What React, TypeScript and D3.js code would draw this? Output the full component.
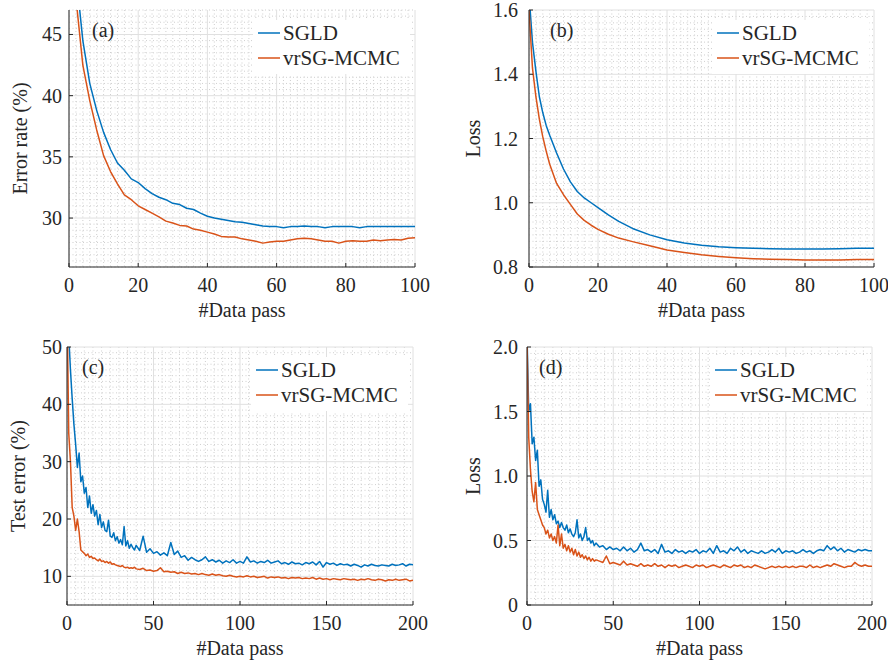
import React from 'react'
import * as d3 from 'd3'

const BLUE = '#0072BD'
const RED = '#D95319'
const FONT = '"Liberation Serif", "Times New Roman", serif'

// ---- panel (a): training error rate
const passA = d3.range(0, 101, 2)
const sgldA = [
  60, 50, 44.5, 41, 38.8, 37, 35.6, 34.5, 33.9, 33.2,
  32.9, 32.4, 32.0, 31.7, 31.5, 31.2, 31.1, 30.8, 30.7, 30.4,
  30.15, 30.0, 29.9, 29.8, 29.7, 29.65, 29.55, 29.45, 29.35, 29.3,
  29.3, 29.2, 29.3, 29.3, 29.35, 29.3, 29.3, 29.2, 29.3, 29.3,
  29.3, 29.3, 29.2, 29.3, 29.3, 29.3, 29.3, 29.3, 29.3, 29.3,
  29.3,
]
const vrA = [
  55, 48, 42.5, 39.6, 37.2, 35.1, 33.8, 32.8, 31.9, 31.5,
  31.0, 30.7, 30.4, 30.1, 29.75, 29.6, 29.4, 29.35, 29.1, 29.0,
  28.85, 28.7, 28.5, 28.45, 28.45, 28.3, 28.2, 28.1, 27.95, 28.05,
  28.1, 28.1, 28.2, 28.3, 28.35, 28.3, 28.2, 28.1, 28.1, 27.95,
  28.1, 28.15, 28.1, 28.1, 28.2, 28.15, 28.2, 28.25, 28.2, 28.35,
  28.4,
]

// ---- panel (b): training loss
const passB = [0, 1, 2, 3, 4, 5, 6, 8, 10, 12, 14, 16, 18, 20, 23, 26, 30, 35, 40, 45, 50, 55, 60, 65, 70, 75, 80, 85, 90, 95, 100]
const sgldB = [
  1.65, 1.5, 1.41, 1.33, 1.28, 1.24, 1.21, 1.155, 1.105, 1.065,
  1.035, 1.015, 1.0, 0.985, 0.962, 0.942, 0.92, 0.9, 0.885, 0.875,
  0.868, 0.863, 0.86, 0.858, 0.857, 0.856, 0.856, 0.856, 0.857, 0.858,
  0.858,
]
const vrB = [
  1.6, 1.42, 1.33, 1.26, 1.205, 1.16, 1.12, 1.06, 1.025, 0.995,
  0.965, 0.945, 0.93, 0.917, 0.902, 0.89, 0.879, 0.866, 0.853, 0.845,
  0.838, 0.833, 0.829, 0.826, 0.824, 0.823, 0.822, 0.822, 0.822, 0.823,
  0.823,
]

// ---- panels (c), (d): 0..39 every pass, then every 2nd pass up to 200
const passCD = d3.range(0, 40).concat(d3.range(40, 201, 2))
const sgldC = [
  60, 52, 46, 41, 36.5, 33, 29, 31.5, 26.5, 27.5,
  24.5, 25.5, 22, 24, 21, 22.5, 20.5, 21.5, 19, 20.8,
  18.5, 19.5, 18, 17.8, 19.8, 17, 16.8, 17.6, 16.2, 16.9,
  15.8, 16.4, 15.5, 18.7, 15.3, 16.2, 14.9, 15.6, 15.0, 14.6,
  15.4,
  14.5, 17.0, 14.2, 14.8, 14.0, 14.3, 13.7, 14.1, 13.6, 15.9,
  13.8, 14.4, 13.3, 13.6, 12.8, 13.3, 12.9, 12.6, 12.9, 13.4,
  12.6, 12.9, 12.5, 12.8, 12.3, 12.7, 12.4, 12.9, 12.3, 12.6,
  12.3, 13.4, 12.5, 12.7, 12.3, 12.6, 12.4, 12.8, 12.3, 12.5,
  12.7, 12.2, 12.4, 12.1, 12.5, 12.2, 12.3, 12.0, 12.4, 12.2,
  12.5, 12.0, 12.6, 11.6, 12.4, 12.1, 12.3, 11.9, 12.2, 12.0,
  12.1, 11.8, 12.1, 11.9, 11.6, 12.0, 11.8, 12.1, 11.9, 11.8,
  12.0, 11.9, 11.8, 12.1, 11.9, 12.0, 12.2, 11.8, 12.1, 12.0,
]
const vrC = [
  58, 35, 30, 22, 20.5, 18, 20, 17.8, 14.6, 14.3,
  14.0, 13.6, 13.9, 13.3, 13.5, 13.1, 13.2, 12.9, 12.7, 13.0,
  12.6, 12.7, 12.4, 12.6, 12.3, 12.5, 12.1, 12.2, 12.0, 11.9,
  11.8, 11.7, 11.9, 11.6, 11.5, 11.6, 11.4, 11.5, 11.4, 11.6,
  11.3,
  11.2, 11.4, 11.0, 11.1, 10.9, 11.0, 11.5, 10.8, 10.9, 10.7,
  10.8, 10.5, 10.7, 10.5, 10.6, 10.4, 10.5, 10.3, 10.5, 10.3,
  10.2, 10.4, 10.2, 10.3, 10.1, 10.0, 10.2, 10.0, 9.9, 10.0,
  9.9, 10.1, 9.9, 10.0, 9.8, 9.9, 10.0, 9.7, 9.9, 9.8,
  9.9, 9.7, 9.8, 9.6, 9.8, 9.7, 9.8, 9.6, 9.7, 9.6,
  9.8, 9.5, 9.7, 9.5, 9.6, 9.4, 9.6, 9.5, 9.4, 9.6,
  9.5, 9.4, 9.5, 9.3, 9.5, 9.4, 9.6, 9.4, 9.3, 9.5,
  9.4, 9.2, 9.4, 9.3, 9.5, 9.3, 9.4, 9.5, 9.2, 9.3,
]
const sgldD = [
  2.1, 1.5, 1.56, 1.25, 1.3, 1.12, 1.2, 0.92, 0.97, 0.82,
  0.78, 0.72, 0.89, 0.68, 0.74, 0.66, 0.7, 0.63, 0.65, 0.6,
  0.64, 0.6, 0.58, 0.62, 0.56, 0.59, 0.55, 0.53, 0.56, 0.66,
  0.52, 0.55, 0.5, 0.53, 0.6, 0.5, 0.52, 0.48, 0.5, 0.46,
  0.48,
  0.45, 0.46, 0.43, 0.45, 0.43, 0.44, 0.42, 0.45, 0.42, 0.44,
  0.41, 0.43, 0.48, 0.42, 0.43, 0.41, 0.43, 0.4, 0.47, 0.41,
  0.42, 0.4, 0.43, 0.41, 0.42, 0.4, 0.42, 0.41, 0.43, 0.4,
  0.42, 0.41, 0.44, 0.4, 0.46, 0.41, 0.42, 0.4, 0.44, 0.42,
  0.45, 0.41, 0.43, 0.4, 0.42, 0.41, 0.4, 0.42, 0.4, 0.41,
  0.43, 0.41, 0.44, 0.4, 0.42, 0.41, 0.42, 0.4, 0.41, 0.43,
  0.41, 0.42, 0.4, 0.42, 0.43, 0.42, 0.46, 0.43, 0.45, 0.42,
  0.44, 0.41, 0.43, 0.42, 0.41, 0.43, 0.42, 0.43, 0.42, 0.42,
]
const vrD = [
  2.05, 1.3, 1.05, 0.88, 0.8, 0.95, 0.74, 0.7, 0.66, 0.62,
  0.6, 0.55, 0.58, 0.52, 0.55, 0.5, 0.53, 0.48, 0.62, 0.46,
  0.55, 0.44, 0.47, 0.42, 0.46, 0.41, 0.44, 0.39, 0.43, 0.38,
  0.41, 0.37, 0.39, 0.36, 0.38, 0.35, 0.37, 0.34, 0.36, 0.34,
  0.35,
  0.34, 0.33, 0.38, 0.32, 0.33, 0.32, 0.31, 0.34, 0.31, 0.32,
  0.31, 0.3, 0.32, 0.3, 0.31, 0.3, 0.32, 0.3, 0.31, 0.29,
  0.31, 0.3, 0.31, 0.29, 0.3, 0.31, 0.3, 0.29, 0.31, 0.3,
  0.31, 0.29, 0.3, 0.31, 0.3, 0.29, 0.31, 0.3, 0.29, 0.31,
  0.3, 0.31, 0.29, 0.3, 0.29, 0.31, 0.3, 0.29, 0.28, 0.29,
  0.3, 0.29, 0.3, 0.29, 0.3, 0.29, 0.3, 0.29, 0.3, 0.3,
  0.29, 0.31, 0.29, 0.3, 0.29, 0.3, 0.31, 0.3, 0.32, 0.31,
  0.3, 0.29, 0.3, 0.3, 0.33, 0.31, 0.3, 0.31, 0.3, 0.3,
]

const seriesNames = ['SGLD', 'vrSG-MCMC']
const xTicks100 = [0, 20, 40, 60, 80, 100]
const xTicks200 = [0, 50, 100, 150, 200]

type PanelProps = {
  id: string
  tag: string
  left: number; top: number; right: number; bottom: number
  xDomain: [number, number]; yDomain: [number, number]
  xTicks: number[]; yTicks: number[]
  xMinor: number; yMinor: number
  yFmt: (v: number) => string
  yLabel: string
  labelGap: number
  tagDx: number
  yTitleX: number
  x: number[]
  blue: number[]; red: number[]
}

function minorTicks(domain: [number, number], step: number, majors: number[]) {
  const out: number[] = []
  const n = Math.round((domain[1] - domain[0]) / step)
  for (let i = 0; i <= n; i++) {
    const v = domain[0] + i * step
    if (!majors.some(m => Math.abs(m - v) < step / 10)) out.push(v)
  }
  return out
}

function Panel(p: PanelProps) {
  const xs = d3.scaleLinear().domain(p.xDomain).range([p.left, p.right])
  const ys = d3.scaleLinear().domain(p.yDomain).range([p.bottom, p.top])
  const line = d3.line<number>().x((d, i) => xs(p.x[i])).y(d => ys(d))
  const clip = 'clip-' + p.id
  const midY = (p.top + p.bottom) / 2
  const midX = (p.left + p.right) / 2
  const xMinors = minorTicks(p.xDomain, p.xMinor, p.xTicks)
  const yMinors = minorTicks(p.yDomain, p.yMinor, p.yTicks)
  const legX = p.right - 132
  return (
    <g>
      <defs>
        <clipPath id={clip}>
          <rect x={p.left} y={p.top} width={p.right - p.left} height={p.bottom - p.top} />
        </clipPath>
      </defs>
      {/* minor grid, dotted */}
      {xMinors.map(v => (
        <line key={'xm' + v} x1={xs(v)} x2={xs(v)} y1={p.top} y2={p.bottom}
          stroke="#cfcfcf" strokeWidth={1} strokeDasharray="1,2.5" />
      ))}
      {yMinors.map(v => (
        <line key={'ym' + v} y1={ys(v)} y2={ys(v)} x1={p.left} x2={p.right}
          stroke="#cfcfcf" strokeWidth={1} strokeDasharray="1,2.5" />
      ))}
      {/* major grid */}
      {p.xTicks.map(v => (
        <line key={'xg' + v} x1={xs(v)} x2={xs(v)} y1={p.top} y2={p.bottom} stroke="#e0e0e0" />
      ))}
      {p.yTicks.map(v => (
        <line key={'yg' + v} y1={ys(v)} y2={ys(v)} x1={p.left} x2={p.right} stroke="#e0e0e0" />
      ))}

      <g clipPath={`url(#${clip})`}>
        <path d={line(p.blue) || ''} fill="none" stroke={BLUE} strokeWidth={1.5} strokeLinejoin="round" />
        <path d={line(p.red) || ''} fill="none" stroke={RED} strokeWidth={1.5} strokeLinejoin="round" />
      </g>

      {/* axes */}
      <line x1={p.left} x2={p.left} y1={p.top} y2={p.bottom} stroke="#262626" />
      <line x1={p.left} x2={p.right} y1={p.bottom} y2={p.bottom} stroke="#262626" />
      {p.xTicks.map(v => (
        <g key={'xt' + v}>
          <line x1={xs(v)} x2={xs(v)} y1={p.bottom} y2={p.bottom - 4} stroke="#262626" />
          <text x={xs(v)} y={p.bottom + 25} textAnchor="middle" fontSize={20}>{v}</text>
        </g>
      ))}
      {p.yTicks.map(v => (
        <g key={'yt' + v}>
          <line x1={p.left} x2={p.left + 4} y1={ys(v)} y2={ys(v)} stroke="#262626" />
          <text x={p.left - p.labelGap} y={ys(v) + 7} textAnchor="end" fontSize={20}>{p.yFmt(v)}</text>
        </g>
      ))}
      <text x={midX} y={p.bottom + 50} textAnchor="middle" fontSize={20}>#Data pass</text>
      <text transform={`translate(${p.yTitleX},${midY}) rotate(-90)`} textAnchor="middle"
        dominantBaseline="central" fontSize={20}>{p.yLabel}</text>

      <text x={p.left + p.tagDx} y={p.top + 27} fontSize={20}>{p.tag}</text>

      {/* legend */}
      <rect x={p.right - 162} y={p.top + 10} width={157} height={54} fill="#fff" />
      {[p.blue, p.red].map((s, i) => (
        <g key={'lg' + i}>
          <line x1={legX - 25} x2={legX - 3} y1={p.top + 23 + i * 25} y2={p.top + 23 + i * 25}
            stroke={i === 0 ? BLUE : RED} strokeWidth={1.5} />
          <text x={legX} y={p.top + 30 + i * 25} fontSize={21}>{seriesNames[i]}</text>
        </g>
      ))}
    </g>
  )
}

export default function App() {
  return (
    <svg width={888} height={662} style={{ position: 'absolute', left: 0, top: 0, background: '#fff' }}
      fontFamily={FONT} fill="#262626">
      <Panel id="a" tag="(a)" left={69} top={10} right={415} bottom={267}
        xDomain={[0, 100]} yDomain={[26, 47]} xTicks={xTicks100} yTicks={[30, 35, 40, 45]}
        xMinor={2} yMinor={0.5} yFmt={v => String(v)} yLabel="Error rate (%)"
        labelGap={7} tagDx={23} yTitleX={20} x={passA} blue={sgldA} red={vrA} />
      <Panel id="b" tag="(b)" left={529} top={10} right={874} bottom={267}
        xDomain={[0, 100]} yDomain={[0.8, 1.6]} xTicks={xTicks100} yTicks={[0.8, 1.0, 1.2, 1.4, 1.6]}
        xMinor={2} yMinor={0.02} yFmt={v => v.toFixed(1)} yLabel="Loss"
        labelGap={11} tagDx={21} yTitleX={473} x={passB} blue={sgldB} red={vrB} />
      <Panel id="c" tag="(c)" left={67} top={347} right={413} bottom={605}
        xDomain={[0, 200]} yDomain={[5, 50]} xTicks={xTicks200} yTicks={[10, 20, 30, 40, 50]}
        xMinor={5} yMinor={1} yFmt={v => String(v)} yLabel="Test error (%)"
        labelGap={5} tagDx={15} yTitleX={18} x={passCD} blue={sgldC} red={vrC} />
      <Panel id="d" tag="(d)" left={527} top={347} right={872} bottom={605}
        xDomain={[0, 200]} yDomain={[0, 2]} xTicks={xTicks200} yTicks={[0, 0.5, 1.0, 1.5, 2.0]}
        xMinor={5} yMinor={0.05} yFmt={v => (v === 0 ? '0' : v.toFixed(1))} yLabel="Loss"
        labelGap={9} tagDx={12} yTitleX={473} x={passCD} blue={sgldD} red={vrD} />
    </svg>
  )
}
